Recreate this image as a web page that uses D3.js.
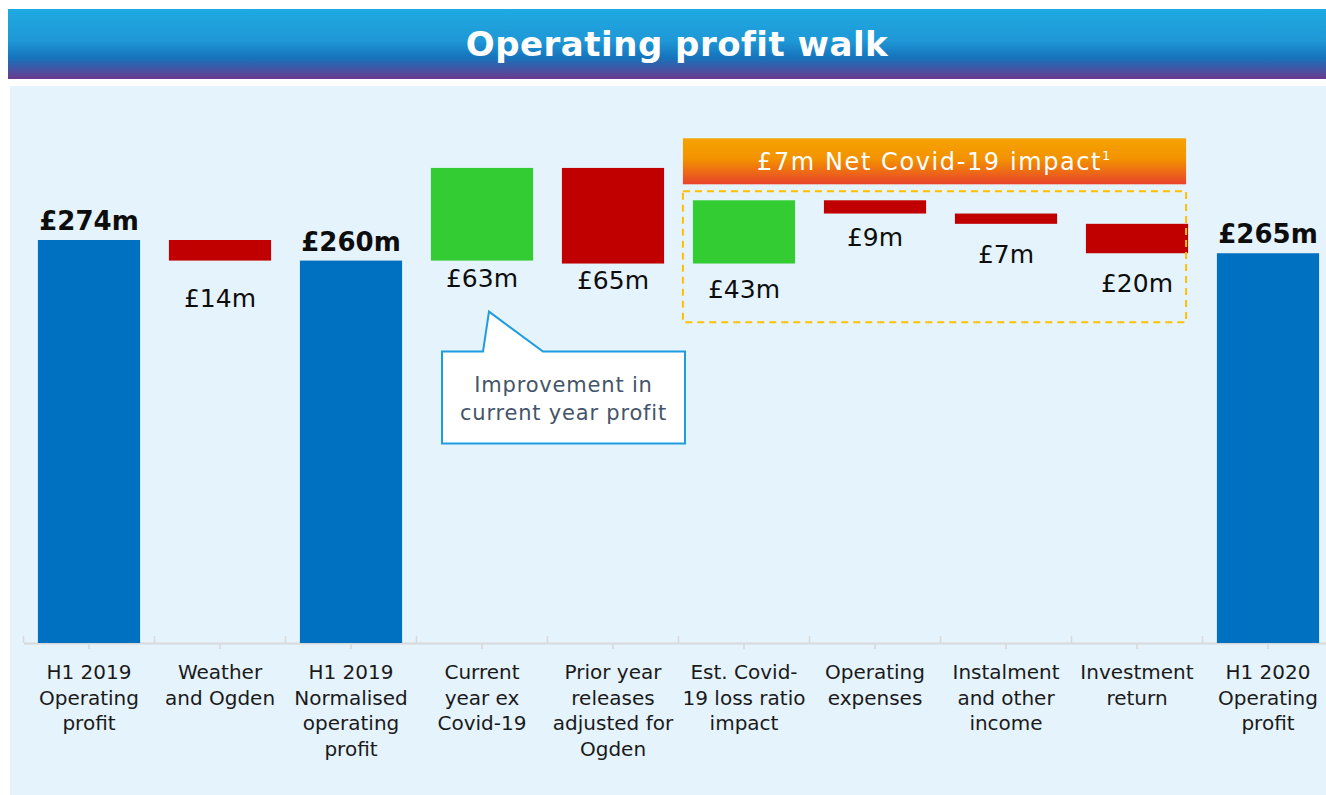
<!DOCTYPE html>
<html>
<head>
<meta charset="utf-8">
<script src="https://cdn.jsdelivr.net/npm/d3@7"></script>
<style>
  html, body { margin: 0; padding: 0; background: #ffffff; }
  svg { display: block; font-family: "DejaVu Sans", sans-serif; }
</style>
</head>
<body>
<svg id="chart" width="1326" height="795"></svg>
<script>
// ---------------- data ----------------
const categories = [
  "H1 2019 Operating profit",
  "Weather and Ogden",
  "H1 2019 Normalised operating profit",
  "Current year ex Covid-19",
  "Prior year releases adjusted for Ogden",
  "Est. Covid-19 loss ratio impact",
  "Operating expenses",
  "Instalment and other income",
  "Investment return",
  "H1 2020 Operating profit"
];
const tickLabelLines = [
  ["H1 2019", "Operating", "profit"],
  ["Weather", "and Ogden"],
  ["H1 2019", "Normalised", "operating", "profit"],
  ["Current", "year ex", "Covid-19"],
  ["Prior year", "releases", "adjusted for", "Ogden"],
  ["Est. Covid-", "19 loss ratio", "impact"],
  ["Operating", "expenses"],
  ["Instalment", "and other", "income"],
  ["Investment", "return"],
  ["H1 2020", "Operating", "profit"]
];
const values = [274, -14, 260, 63, -65, 43, -9, -7, -20, 265];
const kinds = ["total", "down", "total", "up", "down", "up", "down", "down", "down", "total"];
const valueLabels = ["£274m", "£14m", "£260m", "£63m", "£65m", "£43m", "£9m", "£7m", "£20m", "£265m"];
const titleText = "Operating profit walk";
const covidHeaderText = "£7m Net Covid-19 impact";
const covidGroup = ["Est. Covid-19 loss ratio impact", "Operating expenses", "Instalment and other income", "Investment return"];
const calloutLines = ["Improvement in", "current year profit"];
const calloutCategory = "Current year ex Covid-19";

// ---------------- layout ----------------
const W = 1326, H = 795;
const baseY = 643;
const colors = { total: "#0070c0", up: "#33cc33", down: "#c00000" };
// extra vertical nudge (px) applied to each value label, as placed in the original slide
const labelNudge = [0, 13, 0, -7, -8, 1, -1, 6, 6, 0];

const svg = d3.select("#chart");
const defs = svg.append("defs");

const tg = defs.append("linearGradient").attr("id", "titleGrad")
  .attr("x1", 0).attr("y1", 0).attr("x2", 0).attr("y2", 1);
[["0%", "#1faae2"], ["45%", "#1e98d6"], ["70%", "#1673bc"], ["100%", "#6b3a8d"]]
  .forEach(([o, c]) => tg.append("stop").attr("offset", o).attr("stop-color", c));

const og = defs.append("linearGradient").attr("id", "orangeGrad")
  .attr("x1", 0).attr("y1", 0).attr("x2", 0).attr("y2", 1);
[["0%", "#f5a300"], ["45%", "#f39200"], ["100%", "#e8432c"]]
  .forEach(([o, c]) => og.append("stop").attr("offset", o).attr("stop-color", c));

// title bar
svg.append("rect").attr("x", 8).attr("y", 9).attr("width", W - 8).attr("height", 70)
  .attr("fill", "url(#titleGrad)");
svg.append("text").attr("x", 677).attr("y", 56).attr("text-anchor", "middle")
  .attr("fill", "#ffffff").attr("font-size", 34).attr("font-weight", "bold")
  .attr("letter-spacing", 0.5).text(titleText);

// panel
svg.append("rect").attr("x", 10).attr("y", 86).attr("width", W - 10).attr("height", H - 86)
  .attr("fill", "#e5f3fc");

// scales
const x = d3.scaleBand().domain(categories).range([23.5, 1333.5])
  .paddingInner(0.22).paddingOuter(0.11);
const y = d3.scaleLinear().domain([0, 274]).range([baseY, 240]);

// compute waterfall
let running = 0;
const bars = categories.map((c, i) => {
  let y0, y1;
  if (kinds[i] === "total") { y0 = 0; y1 = values[i]; running = values[i]; }
  else { y0 = running; y1 = running + values[i]; running = y1; }
  return { cat: c, i: i, kind: kinds[i], lo: Math.min(y0, y1), hi: Math.max(y0, y1), label: valueLabels[i] };
});

// axis
const axisG = svg.append("g").attr("transform", `translate(0,${baseY})`)
  .call(d3.axisBottom(x).tickSizeInner(6).tickSizeOuter(0).tickFormat(""));
axisG.select(".domain").attr("stroke", "#d9d9d9").attr("stroke-width", 2);
axisG.selectAll(".tick line").attr("stroke", "#d9d9d9").attr("stroke-width", 1.5);
// boundary ticks (upwards)
const boundaries = categories.map(c => x(c) - x.step() * x.paddingInner() / 2);
axisG.selectAll(".bound").data(boundaries).join("line").attr("class", "bound")
  .attr("x1", d => d).attr("x2", d => d).attr("y1", 0).attr("y2", -7)
  .attr("stroke", "#d9d9d9").attr("stroke-width", 1.5);

// tick labels
const lbl = svg.append("g").selectAll("text").data(categories).join("text")
  .attr("text-anchor", "middle").attr("font-size", 20).attr("fill", "#1a1a1a")
  .attr("transform", d => `translate(${x(d) + x.bandwidth() / 2},${baseY + 36})`);
lbl.each(function (d, i) {
  d3.select(this).selectAll("tspan").data(tickLabelLines[i]).join("tspan")
    .attr("x", 0).attr("y", (t, j) => j * 25.5).text(t => t);
});

// bars
svg.append("g").selectAll("rect").data(bars).join("rect")
  .attr("x", d => x(d.cat)).attr("width", x.bandwidth())
  .attr("y", d => y(d.hi)).attr("height", d => y(d.lo) - y(d.hi))
  .attr("fill", d => colors[d.kind]);

// value labels
svg.append("g").selectAll("text").data(bars).join("text")
  .attr("text-anchor", "middle")
  .attr("x", d => x(d.cat) + x.bandwidth() / 2)
  .attr("y", d => (d.kind === "total" ? y(d.hi) - 10 : y(d.lo) + 33) + labelNudge[d.i])
  .attr("font-size", d => d.kind === "total" ? 26 : 25)
  .attr("font-weight", d => d.kind === "total" ? "bold" : "normal")
  .attr("fill", "#0d0d0d")
  .text(d => d.label);

// Covid group annotation
const gBars = bars.filter(b => covidGroup.includes(b.cat));
const gLeft = x(covidGroup[0]) - 10;
const gRight = x(covidGroup[covidGroup.length - 1]) + x.bandwidth() - 2;
const gTop = d3.min(gBars, b => y(b.hi)) - 9;
const gBottom = gTop + 131;
svg.append("rect").attr("x", gLeft).attr("y", gTop).attr("width", gRight - gLeft)
  .attr("height", gBottom - gTop).attr("fill", "none")
  .attr("stroke", "#ffc000").attr("stroke-width", 2).attr("stroke-dasharray", "7,5");
const hTop = gTop - 53, hH = 46;
svg.append("rect").attr("x", gLeft).attr("y", hTop).attr("width", gRight - gLeft)
  .attr("height", hH).attr("fill", "url(#orangeGrad)");
const ht = svg.append("text").attr("x", (gLeft + gRight) / 2).attr("y", hTop + hH / 2 + 8.5)
  .attr("text-anchor", "middle").attr("fill", "#ffffff").attr("font-size", 24)
  .attr("letter-spacing", 1.6);
ht.append("tspan").text(covidHeaderText);
ht.append("tspan").attr("font-size", 13).attr("dy", -10).text("1");

// Callout
const cb = bars.find(b => b.cat === calloutCategory);
const cx = x(calloutCategory) + x.bandwidth() / 2;
const tipY = y(cb.lo) + 51;
const bx0 = cx - 40, bx1 = cx + 203, by0 = tipY + 40, by1 = tipY + 132;
const path = [
  [bx0, by0], [cx + 1, by0], [cx + 7, tipY], [cx + 61, by0], [bx1, by0], [bx1, by1], [bx0, by1]
];
svg.append("path").attr("d", d3.line()(path) + "Z")
  .attr("fill", "#ffffff").attr("stroke", "#1f9be0").attr("stroke-width", 2)
  .attr("stroke-linejoin", "miter");
svg.append("g").selectAll("text").data(calloutLines).join("text")
  .attr("x", (bx0 + bx1) / 2).attr("y", (d, i) => by0 + 40 + i * 28)
  .attr("text-anchor", "middle").attr("font-size", 21).attr("letter-spacing", 0.8)
  .attr("fill", "#44546a").text(d => d);
</script>
</body>
</html>
